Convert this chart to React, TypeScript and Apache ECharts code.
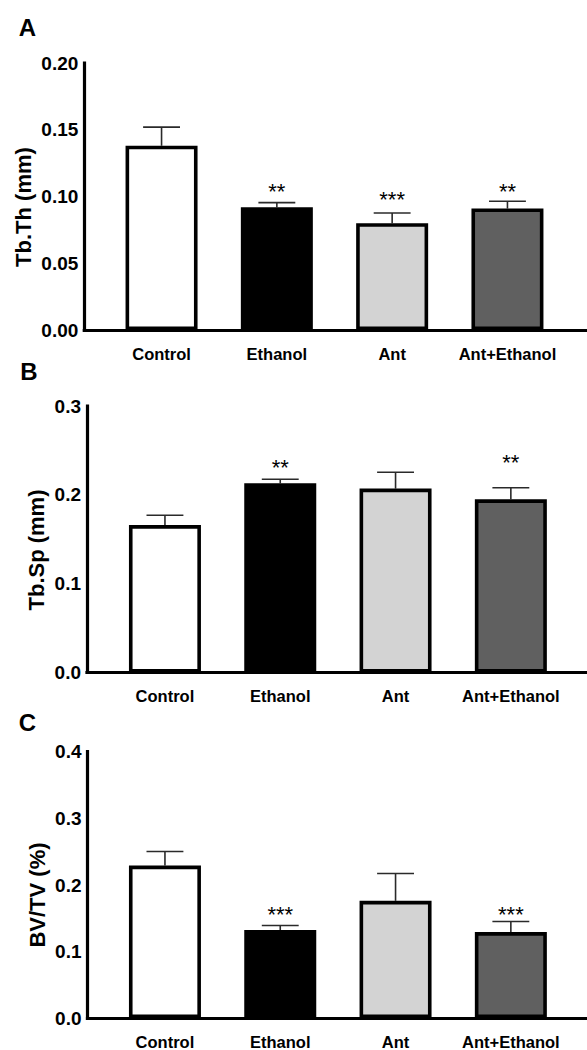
import React, { useEffect, useRef } from 'react';
import * as echarts from 'echarts';

const categories = ['Control', 'Ethanol', 'Ant', 'Ant+Ethanol'];
const barColors = ['#ffffff', '#000000', '#d3d3d3', '#606060'];

// Panel A: Tb.Th (mm)
const tbThMean = [0.138, 0.092, 0.08, 0.091];
const tbThSem = [0.014, 0.0034, 0.0076, 0.0054];
const tbThStars = ['', '**', '***', '**'];
const tbThStarY = [null, 0.1086, 0.1019, 0.1079];
const tbThTicks = [0, 0.05, 0.1, 0.15, 0.2];

// Panel B: Tb.Sp (mm)
const tbSpMean = [0.166, 0.213, 0.207, 0.195];
const tbSpSem = [0.011, 0.0045, 0.0185, 0.013];
const tbSpStars = ['', '**', '', '**'];
const tbSpStarY = [null, 0.238, null, 0.243];
const tbSpTicks = [0, 0.1, 0.2, 0.3];

// Panel C: BV/TV (%)
const bvtvMean = [0.229, 0.132, 0.176, 0.129];
const bvtvSem = [0.021, 0.007, 0.041, 0.016];
const bvtvStars = ['', '***', '', '***'];
const bvtvStarY = [null, 0.165, null, 0.165];
const bvtvTicks = [0, 0.1, 0.2, 0.3, 0.4];

const FONT = '"Liberation Sans", Arial, Helvetica, sans-serif';

const panels = [
  {
    letter: 'A', title: 'Tb.Th (mm)', mean: tbThMean, sem: tbThSem, stars: tbThStars, starY: tbThStarY, ticks: tbThTicks, decimals: 2,
    axisX: 84.3, top: 63, height: 267, barsLeft: 103.9, titleX: 23.5, titleY: 207, letterX: 27.5, letterY: 27,
  },
  {
    letter: 'B', title: 'Tb.Sp (mm)', mean: tbSpMean, sem: tbSpSem, stars: tbSpStars, starY: tbSpStarY, ticks: tbSpTicks, decimals: 1,
    axisX: 87, top: 406, height: 266.5, barsLeft: 107.3, titleX: 36, titleY: 550, letterX: 29, letterY: 371.5,
  },
  {
    letter: 'C', title: 'BV/TV (%)', mean: bvtvMean, sem: bvtvSem, stars: bvtvStars, starY: bvtvStarY, ticks: bvtvTicks, decimals: 1,
    axisX: 87.5, top: 751.7, height: 266.6, barsLeft: 107.3, titleX: 37.5, titleY: 895, letterX: 27.5, letterY: 722.5,
  },
];

const BAND = 115.3;

function buildOption() {
  const grid: any[] = [];
  const xAxis: any[] = [];
  const yAxis: any[] = [];
  const series: any[] = [];
  const graphic: any[] = [];

  panels.forEach((p, i) => {
    const ga = 2 * i;
    const gb = 2 * i + 1;
    const tmin = p.ticks[0];
    const tmax = p.ticks[p.ticks.length - 1];
    const tint = p.ticks[1] - p.ticks[0];

    grid.push({ left: p.axisX, top: p.top, height: p.height, width: 620, containLabel: false });
    grid.push({ left: p.barsLeft, top: p.top, height: p.height, width: BAND * categories.length, containLabel: false });

    xAxis.push({
      gridIndex: ga, type: 'value', min: 0, max: 1, z: 10,
      axisLine: { show: true, lineStyle: { color: '#000', width: 3.2, cap: 'square' } },
      axisTick: { show: false }, axisLabel: { show: false }, splitLine: { show: false },
    });
    yAxis.push({
      gridIndex: ga, type: 'value', min: tmin, max: tmax, interval: tint, z: 10,
      axisLine: { show: true, onZero: false, lineStyle: { color: '#000', width: 3.2, cap: 'square' } },
      axisTick: { show: false }, splitLine: { show: false },
      axisLabel: {
        show: true, color: '#000', fontSize: 19, fontWeight: 'bold', fontFamily: FONT, margin: 6,
        formatter: (v: number) => v.toFixed(p.decimals),
      },
    });

    xAxis.push({
      gridIndex: gb, type: 'category', data: categories,
      axisLine: { show: false }, axisTick: { show: false }, splitLine: { show: false },
      axisLabel: { show: true, color: '#000', fontSize: 16.5, fontWeight: 'bold', fontFamily: FONT, margin: 15, interval: 0 },
    });
    yAxis.push({ gridIndex: gb, type: 'value', min: tmin, max: tmax, show: false, splitLine: { show: false } });

    series.push({
      type: 'custom', xAxisIndex: gb, yAxisIndex: gb, z: 2,
      data: p.mean.map((v, j) => [j, v, v + p.sem[j]]),
      renderItem: (params: any, api: any) => {
        const x = api.value(0);
        const base = api.coord([x, api.value(1)]);
        const top = api.coord([x, api.value(2)]);
        const half = api.size([1, 0])[0] * 0.16;
        return {
          type: 'group',
          children: [
            { type: 'line', shape: { x1: base[0], y1: base[1], x2: top[0], y2: top[1] }, style: { stroke: '#2a2a2a', lineWidth: 1.6 } },
            { type: 'line', shape: { x1: top[0] - half, y1: top[1], x2: top[0] + half, y2: top[1] }, style: { stroke: '#2a2a2a', lineWidth: 1.6 } },
          ],
        };
      },
    });

    series.push({
      type: 'bar', xAxisIndex: gb, yAxisIndex: gb, z: 3, barWidth: 72,
      itemStyle: { borderColor: '#000', borderWidth: 3.6 },
      data: p.mean.map((v, j) => ({ value: v, itemStyle: { color: barColors[j], borderColor: '#000', borderWidth: 3.6 } })),
    });

    const starData: any[] = [];
    p.stars.forEach((s, j) => {
      if (s && p.starY[j] != null) starData.push([j, p.starY[j], s]);
    });
    series.push({
      type: 'custom', xAxisIndex: gb, yAxisIndex: gb, z: 4,
      data: starData.map((d) => [d[0], d[1]]),
      renderItem: (params: any, api: any) => {
        const pt = api.coord([api.value(0), api.value(1)]);
        const txt = starData[params.dataIndex][2];
        return {
          type: 'text', x: pt[0], y: pt[1] + 6,
          style: { text: txt, fill: '#000', fontSize: 22, fontFamily: FONT, align: 'center', verticalAlign: 'middle' },
        };
      },
    });

    graphic.push({
      type: 'text', x: p.letterX, y: p.letterY,
      style: { text: p.letter, fill: '#000', font: `bold 24px ${FONT}`, textAlign: 'center', textVerticalAlign: 'middle', align: 'center', verticalAlign: 'middle' },
    });
    graphic.push({
      type: 'text', x: p.titleX, y: p.titleY, rotation: Math.PI / 2,
      style: { text: p.title, fill: '#000', font: `bold 22px ${FONT}`, textAlign: 'center', textVerticalAlign: 'middle', align: 'center', verticalAlign: 'middle' },
    });
  });

  return {
    animation: false,
    backgroundColor: '#ffffff',
    textStyle: { fontFamily: FONT },
    grid, xAxis, yAxis, series, graphic,
  };
}

export default function App() {
  const ref = useRef<HTMLDivElement>(null);
  useEffect(() => {
    if (!ref.current) return;
    const chart = echarts.init(ref.current, undefined, { renderer: 'svg' });
    chart.setOption(buildOption() as any);
    return () => chart.dispose();
  }, []);
  return (
    <div
      ref={ref}
      style={{ position: 'absolute', left: 0, top: 0, width: 587, height: 1050, background: '#fff' }}
    />
  );
}
